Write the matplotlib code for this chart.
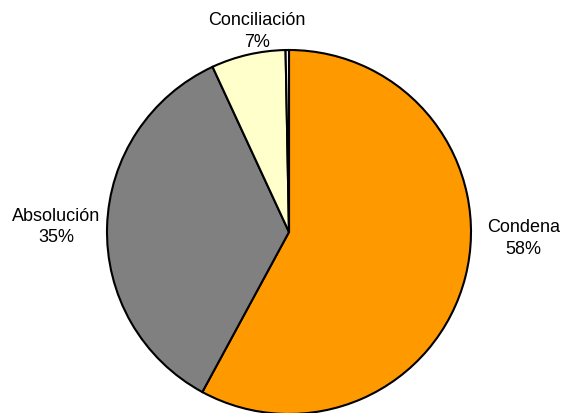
import matplotlib.pyplot as plt

# slice data (Excel-style pie, starts at 12 o'clock, clockwise)
categories = ["Condena", "Absolución", "Conciliación", ""]
values = [57.9, 35.2, 6.6, 0.3]
shown = ["58%", "35%", "7%", ""]
colors = ["#FF9900", "#808080", "#FFFFCC", "#FFFFFF"]

# label block centres, in pie radius units
label_pos = [(1.29, -0.03), (-1.28, 0.033), (-0.178, 1.105), None]

plt.rcParams['font.family'] = ['Liberation Sans', 'DejaVu Sans']

fig = plt.figure(figsize=(5.62, 4.14), dpi=100)
ax = fig.add_axes([0, 0, 1, 1])

ax.pie(values, colors=colors, startangle=90, counterclock=False,
       wedgeprops=dict(edgecolor="black", linewidth=1.5))

for name, pct, pos in zip(categories, shown, label_pos):
    if pos is None:
        continue
    ax.text(pos[0], pos[1], f"{name}\n{pct}", ha="center", va="center",
            fontsize=13, linespacing=1.38, color="black")

# pie radius ~182 px, centre at (289, 233) from top-left
r = 182.0
ax.set_aspect("auto")
ax.set_xlim(-289 / r, (562 - 289) / r)
ax.set_ylim(-(414 - 233) / r, 233 / r)
ax.axis("off")

fig.savefig("out.png", dpi=100)
